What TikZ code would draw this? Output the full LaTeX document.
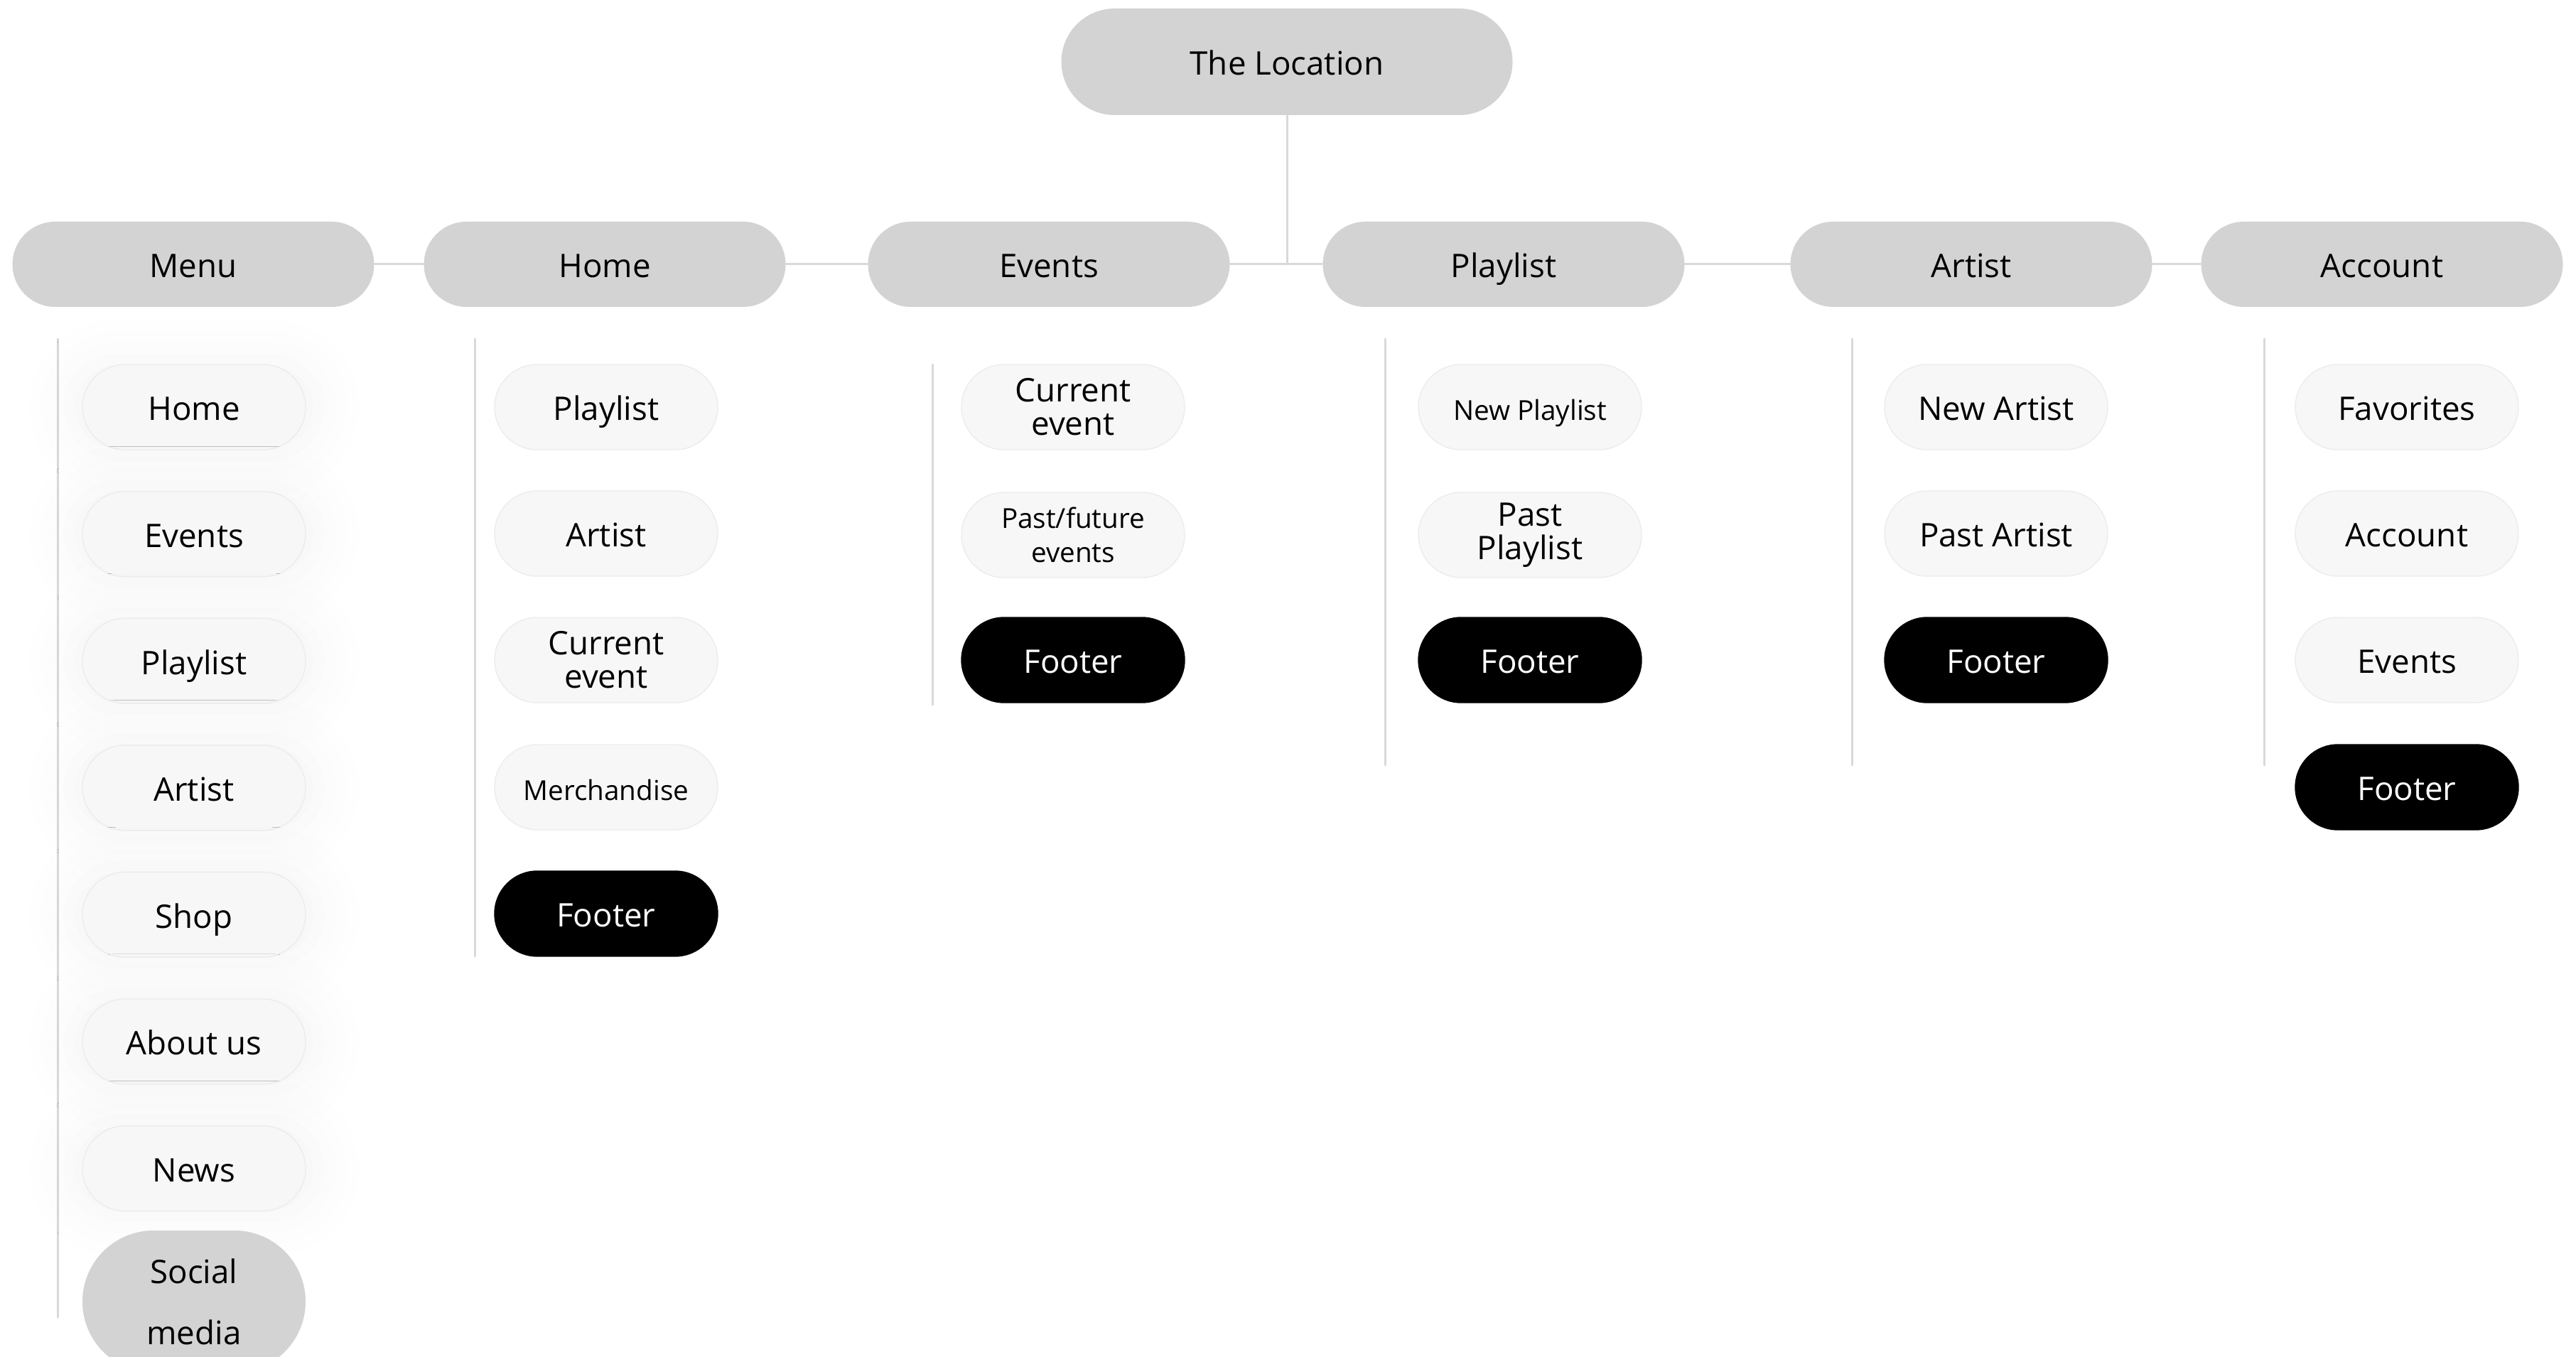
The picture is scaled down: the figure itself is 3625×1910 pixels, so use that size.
\documentclass[tikz,border=0pt]{standalone}
\usepackage{fontspec}
\setmainfont{Open Sans}
\usetikzlibrary{shadows.blur}
\definecolor{MapGrey}{HTML}{D3D3D3}
\definecolor{MapPale}{HTML}{F7F7F7}
\definecolor{MapEdge}{HTML}{ECECEC}
\definecolor{MapLine}{HTML}{D9D9D9}
\tikzset{
  head/.style={fill=MapGrey,rounded corners=6mm,minimum width=50.9mm,minimum height=12mm,inner sep=0pt,
    text height=11.2pt,text depth=.4pt,font=\fontsize{13}{13.4}\selectfont},
  page/.style={fill=MapPale,draw=MapEdge,line width=.4pt,rounded corners=6mm,minimum width=31.4mm,
    minimum height=12mm,inner sep=0pt,align=center,text height=11.2pt,text depth=.4pt,
    font=\fontsize{13}{13.4}\selectfont},
  twoline/.style={text height={},text depth={}},
  smalltext/.style={font=\fontsize{11}{13.6}\selectfont},
  footer/.style={page,fill=black,draw=black,text=white},
  glow/.style={blur shadow={shadow xshift=0pt,shadow yshift=0pt,shadow blur radius=5mm,shadow opacity=4,shadow scale=1.12}},
  link/.style={MapLine,line width=.3mm}
}
\begin{document}
\begin{tikzpicture}[x=.1mm,y=-.1mm,line cap=round]
  \useasboundingbox (0,0) rectangle (3625,1910);
  \node[head,minimum width=63.5mm,minimum height=15mm,rounded corners=7.5mm] (root) at (1811,87) {The Location};
  \foreach \n/\x/\t in {menu/272/Menu,home/851/Home,events/1476/Events,playlist/2116/Playlist,artist/2774/Artist,account/3352/Account}
    \node[head] (\n) at (\x,372) {\t};
  \draw[link] (menu) -- (home); \draw[link] (home) -- (events); \draw[link] (events) -- (playlist);
  \draw[link] (playlist) -- (artist); \draw[link] (artist) -- (account);
  \draw[link] (root.south) -- (root.south |- playlist.west);

  \coordinate (menuTop) at (81,477); \coordinate (menuEnd) at (81,1854);
  \draw[link] (menuTop) -- (menuEnd);
  \foreach \t [count=\i] in {Home,Events,Playlist,Artist,Shop,About us,News}
    \node[page,glow] (menu\i) at (273,{573+178.6*(\i-1)}) {\t};
  \node[page,twoline,fill=MapGrey,draw=none,minimum height=20mm,rounded corners=10mm,font=\fontsize{13}{24.4}\selectfont]
    (menu8) at (273,1832) {Social\\media};

  \coordinate (homeTop) at (668,477); \coordinate (homeEnd) at (668,1346);
  \draw[link] (homeTop) -- (homeEnd);
  \node[page] (home1) at (853,573) {Playlist};
  \node[page] (home2) at (853,751) {Artist};
  \node[page,twoline] (home3) at (853,929) {Current\\event};
  \node[page,smalltext] (home4) at (853,1108) {Merchandise};
  \node[footer] (home5) at (853,1286) {Footer};

  \coordinate (eventsTop) at (1312,513); \coordinate (eventsEnd) at (1312,992);
  \draw[link] (eventsTop) -- (eventsEnd);
  \node[page,twoline] (events1) at (1510,573) {Current\\event};
  \node[page,twoline,smalltext] (events2) at (1510,753) {Past/future\\events};
  \node[footer] (events3) at (1510,929) {Footer};

  \coordinate (playlistTop) at (1949,477); \coordinate (playlistEnd) at (1949,1077);
  \draw[link] (playlistTop) -- (playlistEnd);
  \node[page,smalltext] (playlist1) at (2153,573) {New Playlist};
  \node[page,twoline] (playlist2) at (2153,753) {Past\\Playlist};
  \node[footer] (playlist3) at (2153,929) {Footer};

  \coordinate (artistTop) at (2606,477); \coordinate (artistEnd) at (2606,1077);
  \draw[link] (artistTop) -- (artistEnd);
  \node[page] (artist1) at (2809,573) {New Artist};
  \node[page] (artist2) at (2809,751) {Past Artist};
  \node[footer] (artist3) at (2809,929) {Footer};

  \coordinate (accountTop) at (3186,477); \coordinate (accountEnd) at (3186,1077);
  \draw[link] (accountTop) -- (accountEnd);
  \node[page] (account1) at (3387,573) {Favorites};
  \node[page] (account2) at (3387,751) {Account};
  \node[page] (account3) at (3387,929) {Events};
  \node[footer] (account4) at (3387,1108) {Footer};
\end{tikzpicture}
\end{document}
